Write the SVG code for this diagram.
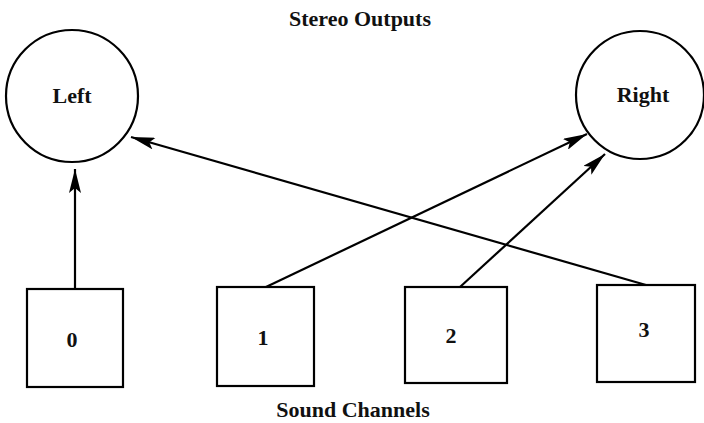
<svg xmlns="http://www.w3.org/2000/svg" width="704" height="423" viewBox="0 0 704 423">
<style>
.n{fill:#fff;stroke:#000;stroke-width:2.2}
.t{font-family:"Liberation Serif","DejaVu Serif",serif;font-weight:bold;font-size:22px;fill:#111;text-anchor:middle}
.c{stroke:#000;stroke-width:2.2;fill:none;marker-end:url(#ah)}
</style>
<defs>
<marker id="ah" viewBox="0 0 24 12" refX="24" refY="6" markerWidth="24" markerHeight="12" markerUnits="userSpaceOnUse" orient="auto">
<path d="M0,0 L24,6 L0,12 L5,6 Z" fill="#000"/>
</marker>
</defs>
<rect width="704" height="423" fill="#fff"/>
<text class="t" x="360" y="26">Stereo Outputs</text>
<text class="t" x="353" y="417">Sound Channels</text>
<g id="left">
<circle class="n" cx="72" cy="96" r="66"/>
<text class="t" x="72" y="103">Left</text>
</g>
<g id="right">
<circle class="n" cx="640" cy="95" r="64"/>
<text class="t" x="643" y="102">Right</text>
</g>
<g id="ch0">
<rect class="n" x="27" y="289" width="96" height="98"/>
<text class="t" x="72" y="347">0</text>
</g>
<g id="ch1">
<rect class="n" x="217" y="287" width="97" height="99"/>
<text class="t" x="263" y="345">1</text>
</g>
<g id="ch2">
<rect class="n" x="405" y="287" width="102" height="96"/>
<text class="t" x="451" y="343">2</text>
</g>
<g id="ch3">
<rect class="n" x="597" y="285" width="98" height="97"/>
<text class="t" x="644" y="337">3</text>
</g>
<g id="connectors">
<line class="c" x1="75" y1="289" x2="75" y2="169"/>
<line class="c" x1="646" y1="285" x2="131" y2="137"/>
<line class="c" x1="266" y1="287" x2="587" y2="134"/>
<line class="c" x1="460" y1="287" x2="605" y2="154"/>
</g>
</svg>
